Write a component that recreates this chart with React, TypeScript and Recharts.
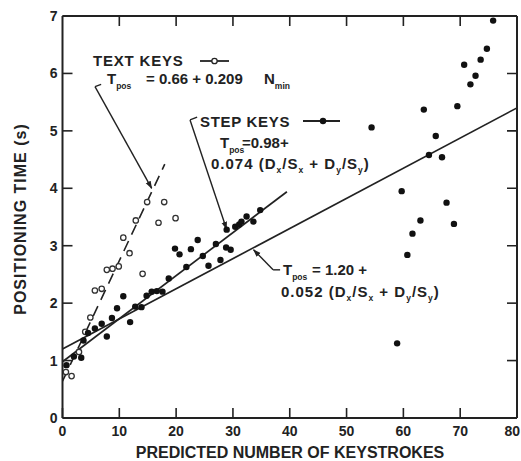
import React from 'react';
import { ComposedChart, Scatter, Line, XAxis, YAxis, ReferenceLine } from 'recharts';

// ---- data ----
const xTicks = [0, 10, 20, 30, 40, 50, 60, 70, 80];
const yTicks = [0, 1, 2, 3, 4, 5, 6, 7];
const X_MAX = 80;
const Y_MAX = 7;

// STEP KEYS (filled dots)
const stepKeys = [
  { x: 0.7, y: 0.92 }, { x: 2.0, y: 1.07 }, { x: 3.3, y: 1.05 }, { x: 3.7, y: 1.35 },
  { x: 4.5, y: 1.48 }, { x: 5.7, y: 1.56 }, { x: 6.9, y: 1.64 }, { x: 7.8, y: 1.42 },
  { x: 8.7, y: 1.74 }, { x: 9.6, y: 1.91 }, { x: 10.7, y: 2.12 }, { x: 11.9, y: 1.67 },
  { x: 12.8, y: 1.94 }, { x: 13.9, y: 1.93 }, { x: 14.8, y: 2.13 }, { x: 15.7, y: 2.2 },
  { x: 16.6, y: 2.21 }, { x: 17.6, y: 2.2 }, { x: 18.7, y: 2.43 }, { x: 19.8, y: 2.95 },
  { x: 20.6, y: 2.85 }, { x: 21.8, y: 2.63 }, { x: 22.6, y: 2.94 }, { x: 23.8, y: 3.1 },
  { x: 24.7, y: 2.82 }, { x: 25.7, y: 2.65 }, { x: 27.0, y: 3.03 }, { x: 27.8, y: 2.75 },
  { x: 28.8, y: 2.97 }, { x: 29.6, y: 2.93 }, { x: 28.9, y: 3.28 }, { x: 30.4, y: 3.33 },
  { x: 31.1, y: 3.37 }, { x: 31.5, y: 3.42 }, { x: 32.4, y: 3.51 }, { x: 33.6, y: 3.42 },
  { x: 34.8, y: 3.62 },
  { x: 54.4, y: 5.06 }, { x: 58.9, y: 1.3 }, { x: 59.7, y: 3.95 }, { x: 60.7, y: 2.84 },
  { x: 61.6, y: 3.21 }, { x: 63.0, y: 3.44 }, { x: 63.6, y: 5.37 }, { x: 64.5, y: 4.58 },
  { x: 65.7, y: 4.91 }, { x: 66.8, y: 4.54 }, { x: 67.6, y: 3.75 }, { x: 68.9, y: 3.38 },
  { x: 69.5, y: 5.43 }, { x: 70.7, y: 6.15 }, { x: 71.8, y: 5.81 }, { x: 72.7, y: 5.96 },
  { x: 73.6, y: 6.24 }, { x: 74.7, y: 6.43 }, { x: 75.8, y: 6.92 },
];

// TEXT KEYS (open circles)
const textKeys = [
  { x: 0.6, y: 0.8 }, { x: 1.6, y: 0.73 }, { x: 2.9, y: 1.15 }, { x: 4.0, y: 1.5 },
  { x: 4.9, y: 1.75 }, { x: 5.7, y: 2.22 }, { x: 6.9, y: 2.25 }, { x: 7.8, y: 2.58 },
  { x: 8.8, y: 2.6 }, { x: 9.9, y: 2.64 }, { x: 10.7, y: 3.14 }, { x: 11.8, y: 2.87 },
  { x: 12.9, y: 3.44 }, { x: 14.1, y: 2.51 }, { x: 14.9, y: 3.76 }, { x: 16.9, y: 3.4 },
  { x: 17.9, y: 3.76 }, { x: 19.9, y: 3.48 },
];

// fitted lines (end points)
const textFit = [{ x: 0, y: 0.64 }, { x: 18, y: 4.42 }];
const stepFit = [{ x: 0, y: 0.98 }, { x: 39.5, y: 3.94 }];
const allFit = [{ x: 0, y: 1.2 }, { x: 80, y: 5.4 }];

// leader lines of the annotations (data coordinates)
const textLeaderTick = [{ x: 5.72, y: 5.77 }, { x: 6.8, y: 5.81 }];
const textLeader = [{ x: 5.72, y: 5.77 }, { x: 15.7, y: 4.0 }];
const stepLeaderTick = [{ x: 22.45, y: 5.19 }, { x: 23.7, y: 5.24 }];
const stepLeader = [{ x: 22.45, y: 5.19 }, { x: 28.87, y: 3.29 }];
const allLeaderTick = [{ x: 38.3, y: 2.58 }, { x: 37.07, y: 2.58 }];
const allLeader = [{ x: 37.07, y: 2.58 }, { x: 33.63, y: 2.93 }];

// positions of the inward ticks on the top and right frame (from the tick lists)
const topTickPts = xTicks.slice(1, -1).map((t) => ({ x: t, y: Y_MAX }));
const rightTickPts = yTicks.slice(1, -1).map((t) => ({ x: X_MAX, y: t }));

const INK = '#222';
const FONT = '"Liberation Sans", Arial, sans-serif';
const TICK_LEN = 10;

const FilledDot = (p: any) => <circle cx={p.cx} cy={p.cy} r={3.2} fill="#111" />;
const OpenDot = (p: any) => (
  <circle cx={p.cx} cy={p.cy} r={2.7} fill="#fff" stroke="#333" strokeWidth={1.3} />
);
const TopTick = (p: any) => (
  <line x1={p.cx} y1={p.cy} x2={p.cx} y2={p.cy + TICK_LEN} stroke={INK} strokeWidth={1.6} />
);
const RightTick = (p: any) => (
  <line x1={p.cx - TICK_LEN} y1={p.cy} x2={p.cx} y2={p.cy} stroke={INK} strokeWidth={1.6} />
);

const tickStyle = { fill: INK, fontSize: 14, fontWeight: 'bold', fontFamily: FONT };
const axisLineStyle = { stroke: INK, strokeWidth: 2 };
const tickLineStyle = { stroke: INK, strokeWidth: 1.6 };

// bottom tick labels; the last one is kept inside the picture
const XTick = (p: any) => {
  const last = p.index === xTicks.length - 1;
  return (
    <text x={last ? p.x + 3 : p.x} y={p.y} dy="0.71em" textAnchor={last ? 'end' : 'middle'}
      fill={INK} fontSize={14} fontWeight="bold" fontFamily={FONT}>
      {p.payload.value}
    </text>
  );
};

const sub = { fontSize: 8.5 };

function Formula({ x, y, coef }: { x: number; y: number; coef: string }) {
  return (
    <text x={x} y={y} fontSize={15} letterSpacing={1}>
      {coef} (D<tspan {...sub} dy={4}>x</tspan>
      <tspan dy={-4}>/S</tspan>
      <tspan {...sub} dy={4}>x</tspan>
      <tspan dy={-4}> + D</tspan>
      <tspan {...sub} dy={4}>y</tspan>
      <tspan dy={-4}>/S</tspan>
      <tspan {...sub} dy={4}>y</tspan>
      <tspan dy={-4}>)</tspan>
    </text>
  );
}

export default function App() {
  return (
    <div style={{ position: 'absolute', left: 0, top: 0, width: 521, height: 461, background: '#fff' }}>
      <svg width={0} height={0} style={{ position: 'absolute' }}>
        <defs>
          <marker id="arr" viewBox="0 0 10 10" refX="9" refY="5" markerWidth="8" markerHeight="8"
            orient="auto" markerUnits="userSpaceOnUse">
            <path d="M0,1.5 L10,5 L0,8.5 z" fill={INK} />
          </marker>
        </defs>
      </svg>
      <div style={{ position: 'absolute', left: 0, top: 0 }}>
        <ComposedChart width={521} height={461} margin={{ top: 15, right: 3, bottom: 0, left: 0.5 }}>
          <XAxis
            xAxisId={0} type="number" dataKey="x" domain={[0, X_MAX]} ticks={xTicks}
            allowDataOverflow height={43} tickSize={-10} tickMargin={18} interval={0}
            tick={XTick} axisLine={axisLineStyle} tickLine={tickLineStyle}
          />
          <XAxis
            xAxisId="top" orientation="top" type="number" dataKey="x" domain={[0, X_MAX]} ticks={xTicks}
            allowDataOverflow height={1} tick={false} tickLine={false} axisLine={axisLineStyle}
          />
          <YAxis
            yAxisId={0} type="number" dataKey="y" domain={[0, Y_MAX]} ticks={yTicks}
            allowDataOverflow width={62} tickSize={-10} tickMargin={15} interval={0}
            tick={tickStyle} axisLine={axisLineStyle} tickLine={tickLineStyle}
          />
          <YAxis
            yAxisId="right" orientation="right" type="number" dataKey="y" domain={[0, Y_MAX]} ticks={yTicks}
            allowDataOverflow width={1} tick={false} tickLine={false} axisLine={axisLineStyle}
          />

          {/* inward ticks on the top and right frame */}
          <Scatter data={topTickPts} dataKey="y" shape={TopTick} isAnimationActive={false} legendType="none" />
          <Scatter data={rightTickPts} dataKey="y" shape={RightTick} isAnimationActive={false} legendType="none" />

          <Line data={allFit} xAxisId="top" yAxisId="right" dataKey="y" type="linear" dot={false}
            stroke={INK} strokeWidth={1.7} isAnimationActive={false} />
          <Line data={stepFit} dataKey="y" type="linear" dot={false} stroke={INK} strokeWidth={1.7}
            isAnimationActive={false} />
          <Line data={textFit} dataKey="y" type="linear" dot={false} stroke={INK} strokeWidth={1.6}
            strokeDasharray="11 7" isAnimationActive={false} />

          <ReferenceLine segment={textLeaderTick} stroke={INK} strokeWidth={1.4} />
          <ReferenceLine segment={textLeader} stroke={INK} strokeWidth={1.4} markerEnd="url(#arr)" />
          <ReferenceLine segment={stepLeaderTick} stroke={INK} strokeWidth={1.4} />
          <ReferenceLine segment={stepLeader} stroke={INK} strokeWidth={1.4} markerEnd="url(#arr)" />
          <ReferenceLine segment={allLeaderTick} stroke={INK} strokeWidth={1.4} />
          <ReferenceLine segment={allLeader} stroke={INK} strokeWidth={1.4} markerEnd="url(#arr)" />

          <Scatter data={textKeys} dataKey="y" shape={OpenDot} isAnimationActive={false} />
          <Scatter data={stepKeys} dataKey="y" shape={FilledDot} isAnimationActive={false} />
        </ComposedChart>
      </div>

      <svg width={521} height={461}
        style={{ position: 'absolute', left: 0, top: 0, pointerEvents: 'none' }}
        fontFamily={FONT} fontWeight="bold" fill={INK}>
        {/* axis titles */}
        <text x={290} y={458} fontSize={16} textAnchor="middle">PREDICTED NUMBER OF KEYSTROKES</text>
        <text x={0} y={0} fontSize={16} textAnchor="middle" letterSpacing={1}
          transform="translate(26,219) rotate(-90)">POSITIONING TIME (s)</text>

        {/* TEXT KEYS legend + formula */}
        <text x={93} y={66} fontSize={15} letterSpacing={0.8}>TEXT KEYS</text>
        <line x1={200} y1={61} x2={229} y2={61} stroke={INK} strokeWidth={1.8} />
        <circle cx={214.5} cy={61} r={2.7} fill="#fff" stroke={INK} strokeWidth={1.3} />
        <text x={107} y={84} fontSize={15}>
          T<tspan {...sub} dy={5}>pos</tspan>
          <tspan x={146} dy={-5}>= 0.66 + 0.209</tspan>
          <tspan x={264}>N</tspan>
          <tspan {...sub} dy={5}>min</tspan>
        </text>

        {/* STEP KEYS legend + formula */}
        <text x={200} y={127} fontSize={15} letterSpacing={0.7}>STEP KEYS</text>
        <line x1={303} y1={121} x2={340} y2={121} stroke={INK} strokeWidth={1.8} />
        <circle cx={323} cy={121} r={3.2} fill="#111" />
        <text x={220} y={148} fontSize={15}>
          T<tspan {...sub} dy={5}>pos</tspan>
          <tspan x={242} dy={-5}>=0.98+</tspan>
        </text>
        <Formula x={211} y={169} coef="0.074" />

        {/* overall formula */}
        <text x={283} y={275} fontSize={15}>
          T<tspan {...sub} dy={5}>pos</tspan>
          <tspan x={312} dy={-5}>= 1.20 +</tspan>
        </text>
        <Formula x={281} y={297} coef="0.052" />
      </svg>
    </div>
  );
}
